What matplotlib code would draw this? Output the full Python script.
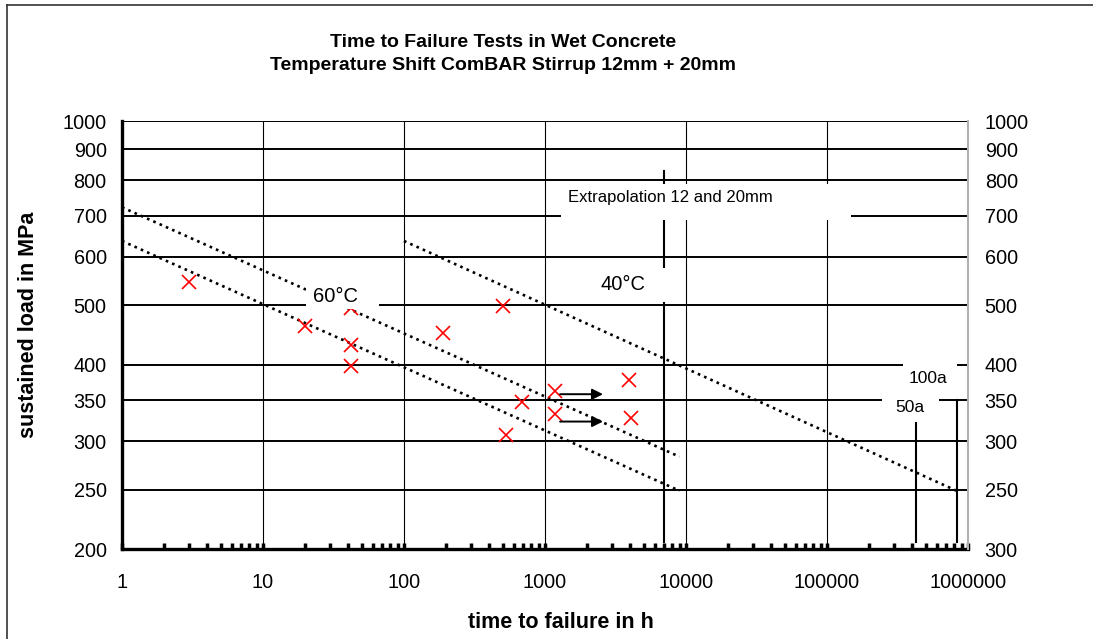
import matplotlib
matplotlib.use("Agg")
import matplotlib.pyplot as plt
from matplotlib.lines import Line2D
from matplotlib.patches import Rectangle
from matplotlib.ticker import FixedLocator, FixedFormatter, LogLocator, NullLocator

plt.rcParams['font.family'] = ['Liberation Sans', 'DejaVu Sans']

# failed specimens (red crosses)
time_h = [3, 20, 42, 42, 42, 190, 500, 530, 690, 1180, 1180, 3950, 4050]
load_mpa = [546, 462, 495, 430, 398, 451, 499, 307, 348, 363, 332, 378, 327]

# run-outs (arrows)
runout_from = [1280, 1280]
runout_to = [2580, 2580]
runout_load = [358, 323]

# dotted regression / extrapolation lines
fit60_hi_x, fit60_hi_y = [1, 9000], [723, 283]
fit60_lo_x, fit60_lo_y = [1, 9000], [637, 249]
fit40_x, fit40_y = [100, 830000], [637, 249]

# vertical markers (extrapolation limit, 50a, 100a)
mark_x = [7000, 428000, 830000]
mark_top = [830, 321, 350]
mark_bottom = 205

y_ticks = [200, 250, 300, 350, 400, 500, 600, 700, 800, 900, 1000]
y_labels_left = ['200', '250', '300', '350', '400', '500', '600', '700', '800', '900', '1000']
y_labels_right = ['300', '250', '300', '350', '400', '500', '600', '700', '800', '900', '1000']
x_ticks = [1, 10, 100, 1000, 10000, 100000, 1000000]
x_labels = ['1', '10', '100', '1000', '10000', '100000', '1000000']

fig = plt.figure(figsize=(10.93, 6.39), dpi=100)
ax = fig.add_axes([0.1116, 0.1408, 0.8856 - 0.1116, 0.8106 - 0.1408])
ax.set_xscale('log')
ax.set_yscale('log')
ax.set_xlim(1, 1e6)
ax.set_ylim(200, 1000)

# ticks / grid
ax.xaxis.set_major_locator(FixedLocator(x_ticks))
ax.xaxis.set_major_formatter(FixedFormatter(x_labels))
ax.xaxis.set_minor_locator(LogLocator(base=10, subs=range(2, 10), numticks=20))
ax.yaxis.set_major_locator(FixedLocator(y_ticks))
ax.yaxis.set_major_formatter(FixedFormatter(y_labels_left))
ax.yaxis.set_minor_locator(NullLocator())
ax.tick_params(axis='x', which='both', direction='in', length=4, width=2.5,
               labelsize=14.3, pad=17)
ax.tick_params(axis='x', which='minor', labelbottom=False)
ax.tick_params(axis='y', which='major', length=0, labelsize=14.3, pad=11)
ax.set_axisbelow(True)
ax.grid(axis='y', which='major', color='black', lw=1.4)
ax.grid(axis='x', which='major', color='black', lw=0.8)

for side in ['top', 'right']:
    ax.spines[side].set_visible(False)
ax.spines['left'].set_linewidth(2.4)
ax.spines['bottom'].set_linewidth(2.4)

# right hand labels
ax2 = ax.twinx()
ax2.set_yscale('log')
ax2.set_ylim(200, 1000)
ax2.yaxis.set_major_locator(FixedLocator(y_ticks))
ax2.yaxis.set_major_formatter(FixedFormatter(y_labels_right))
ax2.yaxis.set_minor_locator(NullLocator())
ax2.tick_params(axis='y', which='major', length=0, labelsize=14.3, pad=12)
for side in ['top', 'left', 'bottom']:
    ax2.spines[side].set_visible(False)
ax2.spines['right'].set_color('#b0b0b0')
ax2.spines['right'].set_linewidth(1.5)

# dotted lines
dots = dict(color='black', lw=1.9, linestyle=(0, (1, 1.6)), zorder=3)
ax.plot(fit60_hi_x, fit60_hi_y, **dots)
ax.plot(fit60_lo_x, fit60_lo_y, **dots)
ax.plot(fit40_x, fit40_y, **dots)

# vertical markers
for x, top in zip(mark_x, mark_top):
    ax.plot([x, x], [mark_bottom, top], color='black', lw=1.5, zorder=3)

# data
ax.plot(time_h, load_mpa, linestyle='none', marker='x', color='#ff0000',
        markersize=10, markeredgewidth=1.2, zorder=4)
for x0, x1, y in zip(runout_from, runout_to, runout_load):
    ax.annotate('', xy=(x1, y), xytext=(x0, y),
                arrowprops=dict(arrowstyle='-|>', color='black', lw=1.4,
                                mutation_scale=16, shrinkA=0, shrinkB=0), zorder=4)

# label boxes hiding the grid (axes fractions)
boxes = [(0.519, 0.769, 0.343, 0.083),
         (0.547, 0.577, 0.101, 0.080),
         (0.2175, 0.561, 0.0863, 0.072),
         (0.923, 0.372, 0.064, 0.074),
         (0.898, 0.306, 0.068, 0.061)]
for bx, by, bw, bh in boxes:
    ax.add_patch(Rectangle((bx, by), bw, bh, transform=ax.transAxes,
                           facecolor='white', edgecolor='none', zorder=5))

ax.text(0.527, 0.822, 'Extrapolation 12 and 20mm', transform=ax.transAxes,
        ha='left', va='center', fontsize=12, zorder=6)
ax.text(0.5922, 0.619, '40°C', transform=ax.transAxes, ha='center', va='center',
        fontsize=14.5, zorder=6)
ax.text(0.2527, 0.591, '60°C', transform=ax.transAxes, ha='center', va='center',
        fontsize=14.5, zorder=6)
ax.text(0.9527, 0.3995, '100a', transform=ax.transAxes, ha='center', va='center',
        fontsize=12.5, zorder=6)
ax.text(0.9314, 0.3318, '50a', transform=ax.transAxes, ha='center', va='center',
        fontsize=12.5, zorder=6)

# titles and axis labels
fig.text(0.46, 0.926, 'Time to Failure Tests in Wet Concrete', ha='center',
         va='baseline', fontsize=14, fontweight='bold')
fig.text(0.46, 0.8905, 'Temperature Shift ComBAR Stirrup 12mm + 20mm', ha='center',
         va='baseline', fontsize=14, fontweight='bold')
fig.text(0.5133, 0.0172, 'time to failure in h', ha='center', va='baseline',
         fontsize=15.5, fontweight='bold')
fig.text(29 / 1093, 0.4914, 'sustained load in MPa', ha='center', va='center',
         rotation=90, fontsize=15.5, fontweight='bold')

# outer frame (top and left edge)
fig.add_artist(Line2D([7 / 1093, 1], [1 - 5 / 639, 1 - 5 / 639], transform=fig.transFigure,
                      color='#333333', lw=1.2))
fig.add_artist(Line2D([7 / 1093, 7 / 1093], [0, 1 - 5 / 639], transform=fig.transFigure,
                      color='#333333', lw=1.2))

fig.savefig('out.png', dpi=100)
